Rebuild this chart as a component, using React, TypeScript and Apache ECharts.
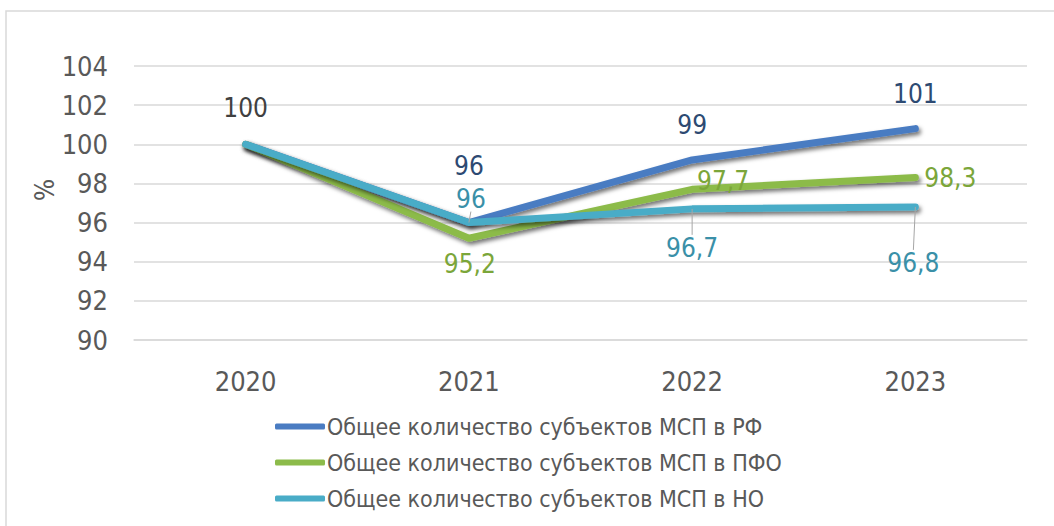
import React, { useEffect, useRef } from "react";
import * as echarts from "echarts";

const years = ["2020", "2021", "2022", "2023"];
const seriesNames = [
  "Общее количество субъектов МСП в РФ",
  "Общее количество субъектов МСП в ПФО",
  "Общее количество субъектов МСП в НО",
];
const rfValues = [100, 96, 99.2, 100.8];
const pfoValues = [100, 95.2, 97.7, 98.3];
const noValues = [100, 96, 96.7, 96.8];
const yTicks = [90, 92, 94, 96, 98, 100, 102, 104];

const lineColors = ["#4a7cc2", "#8cbb4a", "#49acc7"];
const labelColors = ["#2d4a72", "#7ba63a", "#3a90a8"];

// label placement offsets (dx, dy) relative to the data point; null = hidden
const labelOffsets: (number[] | null)[][] = [
  [[0, -36], [0, -57], [0, -35], [0, -35]],
  [null, [1, 26], [31, -8], [35, 0]],
  [null, [2, -24], [0, 39], [-2, 56]],
];

const FONT = "'Liberation Sans Narrow', 'DejaVu Sans Condensed', sans-serif";

function fmt(si: number, v: number) {
  if (si === 0) return String(Math.round(v));
  return String(v).replace(".", ",");
}

export default function App() {
  const ref = useRef<HTMLDivElement>(null);
  useEffect(() => {
    if (!ref.current) return;
    const chart = echarts.init(ref.current, null, { renderer: "svg" });
    const all = [rfValues, pfoValues, noValues];
    const series = all.map((vals, si) => ({
      name: seriesNames[si],
      type: "line",
      data: vals.map((v, i) => ({
        value: v,
        label: {
          show: labelOffsets[si][i] !== null,
          color: si === 0 && i === 0 ? "#404040" : labelColors[si],
        },
      })),
      symbol: "circle",
      symbolSize: 0.01,
      showSymbol: true,
      lineStyle: {
        width: 7,
        color: lineColors[si],
        cap: "round",
        join: "round",
        shadowColor: "rgba(0,0,0,0.55)",
        shadowBlur: 4,
        shadowOffsetX: 2,
        shadowOffsetY: 3,
      },
      itemStyle: { color: lineColors[si] },
      label: {
        show: true,
        position: "inside",
        fontFamily: FONT,
        fontSize: 26,
        color: labelColors[si],
        formatter: (p: any) => fmt(si, p.value),
      },
      labelLine: {
        show: si === 2,
        lineStyle: { color: "#a6a6a6", width: 1 },
      },
      labelLayout: (p: any) => {
        const o = labelOffsets[si][p.dataIndex];
        if (!o) return {};
        return { dx: o[0], dy: o[1] };
      },
      z: 2 + si,
    }));

    chart.setOption({
      animation: false,
      backgroundColor: "#ffffff",
      grid: { left: 134, right: 27, top: 66, bottom: 186 },
      xAxis: {
        type: "category",
        data: years,
        boundaryGap: true,
        axisLine: { lineStyle: { color: "#d9d9d9", width: 1.5 } },
        axisTick: { show: false },
        axisLabel: {
          color: "#595959",
          fontFamily: FONT,
          fontSize: 27,
          margin: 28,
        },
      },
      yAxis: {
        type: "value",
        min: yTicks[0],
        max: yTicks[yTicks.length - 1],
        interval: 2,
        axisLine: { show: false },
        axisTick: { show: false },
        splitLine: { lineStyle: { color: "#d9d9d9", width: 1.5 } },
        axisLabel: {
          color: "#595959",
          fontFamily: FONT,
          fontSize: 27,
          margin: 26,
        },
      },
      legend: {
        orient: "vertical",
        left: 270,
        top: 410,
        itemWidth: 50,
        itemHeight: 6,
        itemGap: 13,
        icon: "roundRect",
        data: seriesNames,
        textStyle: {
          color: "#595959",
          fontFamily: FONT,
          fontSize: 23,
          padding: [0, 0, 0, -3],
        },
      },
      graphic: [
        {
          type: "rect",
          shape: { x: 6, y: 11, width: 1100, height: 600 },
          style: { fill: "none", stroke: "#d9d9d9", lineWidth: 1.5 },
          silent: true,
        },
        {
          type: "text",
          x: 45,
          y: 190,
          rotation: Math.PI / 2,
          style: {
            text: "%",
            fill: "#595959",
            font: `26px ${FONT}`,
            align: "center",
            verticalAlign: "middle",
          },
        },
      ],
      series,
    });
    return () => chart.dispose();
  }, []);
  return (
    <div
      ref={ref}
      style={{ position: "fixed", left: 0, top: 0, width: 1054, height: 526 }}
    />
  );
}
